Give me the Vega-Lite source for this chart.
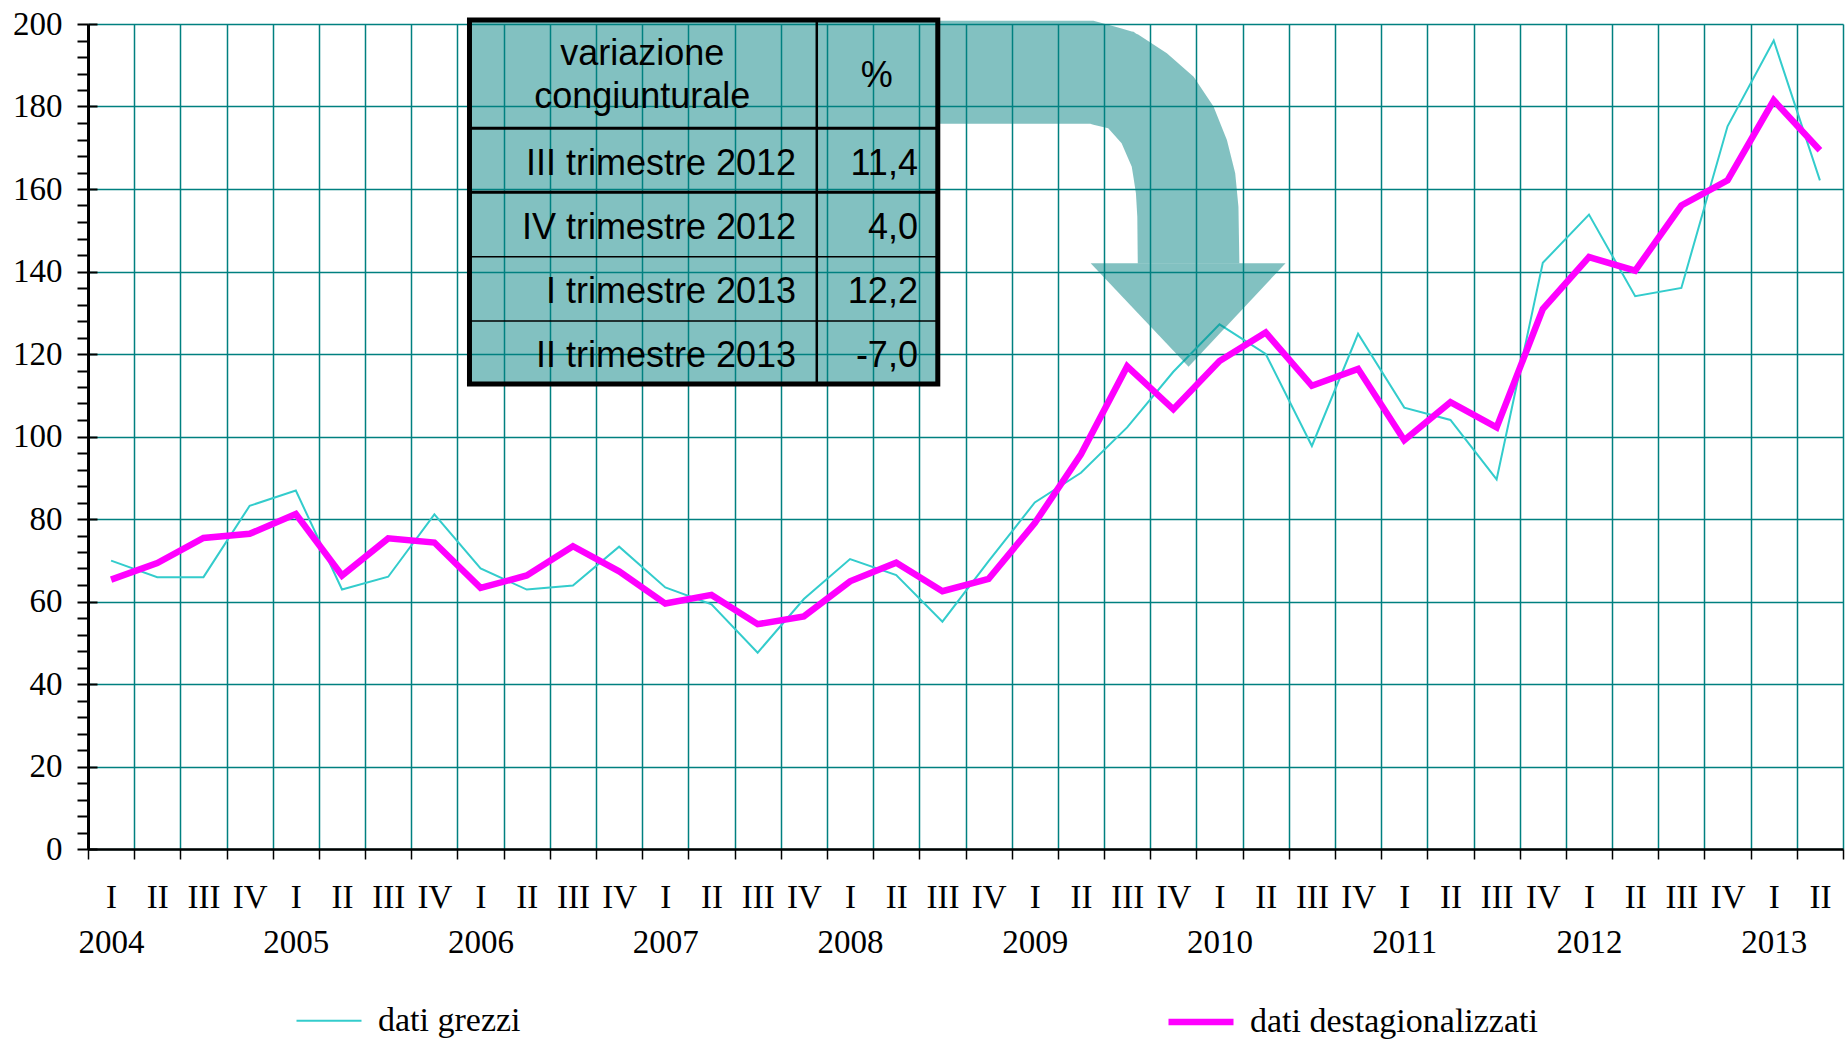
{
  "$schema": "https://vega.github.io/schema/vega-lite/v6.json",
  "width": 1755,
  "height": 825,
  "autosize": {"type": "none"},
  "padding": {"left": 88, "top": 24, "right": 2, "bottom": 196},
  "background": "white",
  "resolve": {"axis": {"y": "independent"}},
  "config": {
    "view": {"stroke": null},
    "locale": {"number": {"decimal": ",", "thousands": ".", "grouping": [3], "currency": ["€", ""], "minus": "-"}},
    "axis": {
      "labelOverlap": false,
      "labelFlush": false,
      "labelBound": false,
      "labelColor": "black",
      "labelFont": "Liberation Serif",
      "labelFontSize": 33,
      "tickColor": "black",
      "domainColor": "black",
      "gridColor": "#008080",
      "titleOpacity": 0
    },
    "axisX": {
      "grid": true,
      "labelAngle": 0,
      "labelAlign": "center",
      "labelBaseline": "top",
      "labelLineHeight": 45,
      "labelPadding": 22,
      "tickSize": 10,
      "tickWidth": 1.5,
      "gridWidth": 1.5,
      "domainWidth": 2.5
    },
    "axisY": {
      "labels": false,
      "ticks": false,
      "domain": false,
      "grid": false,
      "orient": "left"
    }
  },
  "datasets": {
    "serie": [
      {"anno": 2004, "trimestre": "I", "t": 0, "dati grezzi": 69.9, "dati destagionalizzati": 65.3},
      {"anno": 2004, "trimestre": "II", "t": 1, "dati grezzi": 65.9, "dati destagionalizzati": 69.3},
      {"anno": 2004, "trimestre": "III", "t": 2, "dati grezzi": 65.9, "dati destagionalizzati": 75.4},
      {"anno": 2004, "trimestre": "IV", "t": 3, "dati grezzi": 83.2, "dati destagionalizzati": 76.4},
      {"anno": 2005, "trimestre": "I", "t": 4, "dati grezzi": 86.9, "dati destagionalizzati": 81.2},
      {"anno": 2005, "trimestre": "II", "t": 5, "dati grezzi": 62.9, "dati destagionalizzati": 66.3},
      {"anno": 2005, "trimestre": "III", "t": 6, "dati grezzi": 66.0, "dati destagionalizzati": 75.3},
      {"anno": 2005, "trimestre": "IV", "t": 7, "dati grezzi": 81.1, "dati destagionalizzati": 74.3},
      {"anno": 2006, "trimestre": "I", "t": 8, "dati grezzi": 68.0, "dati destagionalizzati": 63.3},
      {"anno": 2006, "trimestre": "II", "t": 9, "dati grezzi": 62.9, "dati destagionalizzati": 66.3},
      {"anno": 2006, "trimestre": "III", "t": 10, "dati grezzi": 63.9, "dati destagionalizzati": 73.4},
      {"anno": 2006, "trimestre": "IV", "t": 11, "dati grezzi": 73.3, "dati destagionalizzati": 67.3},
      {"anno": 2007, "trimestre": "I", "t": 12, "dati grezzi": 63.4, "dati destagionalizzati": 59.5},
      {"anno": 2007, "trimestre": "II", "t": 13, "dati grezzi": 59.3, "dati destagionalizzati": 61.6},
      {"anno": 2007, "trimestre": "III", "t": 14, "dati grezzi": 47.6, "dati destagionalizzati": 54.5},
      {"anno": 2007, "trimestre": "IV", "t": 15, "dati grezzi": 60.6, "dati destagionalizzati": 56.4},
      {"anno": 2008, "trimestre": "I", "t": 16, "dati grezzi": 70.3, "dati destagionalizzati": 64.9},
      {"anno": 2008, "trimestre": "II", "t": 17, "dati grezzi": 66.4, "dati destagionalizzati": 69.4},
      {"anno": 2008, "trimestre": "III", "t": 18, "dati grezzi": 55.1, "dati destagionalizzati": 62.5},
      {"anno": 2008, "trimestre": "IV", "t": 19, "dati grezzi": 69.8, "dati destagionalizzati": 65.5},
      {"anno": 2009, "trimestre": "I", "t": 20, "dati grezzi": 84.0, "dati destagionalizzati": 79.0},
      {"anno": 2009, "trimestre": "II", "t": 21, "dati grezzi": 91.2, "dati destagionalizzati": 95.7},
      {"anno": 2009, "trimestre": "III", "t": 22, "dati grezzi": 102.2, "dati destagionalizzati": 117.0},
      {"anno": 2009, "trimestre": "IV", "t": 23, "dati grezzi": 115.7, "dati destagionalizzati": 106.6},
      {"anno": 2010, "trimestre": "I", "t": 24, "dati grezzi": 127.2, "dati destagionalizzati": 118.3},
      {"anno": 2010, "trimestre": "II", "t": 25, "dati grezzi": 120.0, "dati destagionalizzati": 125.2},
      {"anno": 2010, "trimestre": "III", "t": 26, "dati grezzi": 97.7, "dati destagionalizzati": 112.3},
      {"anno": 2010, "trimestre": "IV", "t": 27, "dati grezzi": 124.9, "dati destagionalizzati": 116.4},
      {"anno": 2011, "trimestre": "I", "t": 28, "dati grezzi": 107.0, "dati destagionalizzati": 99.1},
      {"anno": 2011, "trimestre": "II", "t": 29, "dati grezzi": 104.0, "dati destagionalizzati": 108.3},
      {"anno": 2011, "trimestre": "III", "t": 30, "dati grezzi": 89.6, "dati destagionalizzati": 102.2},
      {"anno": 2011, "trimestre": "IV", "t": 31, "dati grezzi": 142.1, "dati destagionalizzati": 130.9},
      {"anno": 2012, "trimestre": "I", "t": 32, "dati grezzi": 153.8, "dati destagionalizzati": 143.5},
      {"anno": 2012, "trimestre": "II", "t": 33, "dati grezzi": 134.0, "dati destagionalizzati": 140.2},
      {"anno": 2012, "trimestre": "III", "t": 34, "dati grezzi": 136.0, "dati destagionalizzati": 156.0},
      {"anno": 2012, "trimestre": "IV", "t": 35, "dati grezzi": 175.2, "dati destagionalizzati": 162.1},
      {"anno": 2013, "trimestre": "I", "t": 36, "dati grezzi": 196.0, "dati destagionalizzati": 181.5},
      {"anno": 2013, "trimestre": "II", "t": 37, "dati grezzi": 162.1, "dati destagionalizzati": 169.4}
    ],
    "tabella": [
      {"periodo": "III trimestre 2012", "variazione": 11.4},
      {"periodo": "IV trimestre 2012", "variazione": 4.0},
      {"periodo": "I trimestre 2013", "variazione": 12.2},
      {"periodo": "II trimestre 2013", "variazione": -7.0}
    ],
    "freccia": [
      {"parte": "corpo", "x": 17.9, "alto": 200.8, "basso": 175.8},
      {"parte": "corpo", "x": 21.2, "alto": 200.8, "basso": 175.8},
      {"parte": "corpo", "x": 21.27, "alto": 200.8, "basso": 175.6},
      {"parte": "corpo", "x": 21.59, "alto": 199.8, "basso": 174.7},
      {"parte": "corpo", "x": 21.88, "alto": 198.9, "basso": 171.1},
      {"parte": "corpo", "x": 22.1, "alto": 198.2, "basso": 165.4},
      {"parte": "corpo", "x": 22.14, "alto": 198.1, "basso": 162.6},
      {"parte": "corpo", "x": 22.19, "alto": 197.7, "basso": 159.0},
      {"parte": "corpo", "x": 22.22, "alto": 197.5, "basso": 153.3},
      {"parte": "corpo", "x": 22.23, "alto": 197.5, "basso": 142.0},
      {"parte": "corpo", "x": 22.86, "alto": 192.9, "basso": 142.0},
      {"parte": "corpo", "x": 23.44, "alto": 187.2, "basso": 142.0},
      {"parte": "corpo", "x": 23.87, "alto": 180.0, "basso": 142.0},
      {"parte": "corpo", "x": 24.16, "alto": 171.9, "basso": 142.0},
      {"parte": "corpo", "x": 24.34, "alto": 163.8, "basso": 142.0},
      {"parte": "corpo", "x": 24.41, "alto": 155.7, "basso": 142.0},
      {"parte": "corpo", "x": 24.43, "alto": 142.0, "basso": 142.0},
      {"parte": "punta", "x": 21.21, "alto": 142.0, "basso": 142.0},
      {"parte": "punta", "x": 23.33, "alto": 142.0, "basso": 116.9},
      {"parte": "punta", "x": 25.43, "alto": 142.0, "basso": 142.0}
    ],
    "uno": [{}]
  },
  "layer": [
    {
      "data": {"name": "serie"},
      "transform": [
        {"fold": ["dati grezzi", "dati destagionalizzati"], "as": ["serie", "valore"]}
      ],
      "mark": {"type": "line", "strokeJoin": "miter", "strokeCap": "butt"},
      "encoding": {
        "x": {
          "field": "t",
          "type": "quantitative",
          "title": null,
          "scale": {"domain": [-0.5, 37.5], "nice": false, "zero": false},
          "axis": {
            "orient": "bottom",
            "values": [-0.5,0.5,1.5,2.5,3.5,4.5,5.5,6.5,7.5,8.5,9.5,10.5,11.5,12.5,13.5,14.5,15.5,16.5,17.5,18.5,19.5,20.5,21.5,22.5,23.5,24.5,25.5,26.5,27.5,28.5,29.5,30.5,31.5,32.5,33.5,34.5,35.5,36.5,37.5],
            "labelExpr": "datum.value > 37 ? '' : [['I','II','III','IV'][(datum.value + 0.5) % 4], (datum.value + 0.5) % 4 === 0 ? '' + (2004 + (datum.value + 0.5) / 4) : '']",
            "labelOffset": 23.1
          }
        },
        "y": {
          "field": "valore",
          "type": "quantitative",
          "title": null,
          "scale": {"domain": [0, 200], "nice": false},
          "axis": {
            "orient": "left",
            "values": [0,20,40,60,80,100,120,140,160,180,200],
            "labels": true,
            "ticks": true,
            "domain": true,
            "grid": true,
            "gridColor": "#008080",
            "gridWidth": 1.6,
            "tickSize": 11,
            "tickWidth": 2,
            "tickColor": "black",
            "domainWidth": 3,
            "domainColor": "black",
            "labelPadding": 15,
            "labelFont": "Liberation Serif",
            "labelFontSize": 33,
            "labelColor": "black",
            "labelOverlap": false
          }
        },
        "color": {
          "field": "serie",
          "type": "nominal",
          "scale": {"domain": ["dati grezzi", "dati destagionalizzati"], "range": ["#33CCCC", "#FF00FF"]},
          "legend": {
            "title": null,
            "orient": "none",
            "legendX": 205,
            "legendY": 962,
            "direction": "horizontal",
            "columns": 2,
            "columnPadding": 634,
            "padding": 0,
            "symbolType": "stroke",
            "symbolSize": 4225,
            "symbolStrokeWidth": 3,
            "labelFont": "Liberation Serif",
            "labelFontSize": 34,
            "labelColor": "black",
            "labelOffset": 13,
            "labelLimit": 600,
            "encode": {"symbols": {"update": {"strokeWidth": {"signal": "datum.value === 'dati grezzi' ? 3 : 7"}}}}
          }
        },
        "strokeWidth": {
          "field": "serie",
          "type": "nominal",
          "scale": {"domain": ["dati grezzi", "dati destagionalizzati"], "range": [2, 6.5]},
          "legend": null
        }
      }
    },
    {
      "data": {"name": "freccia"},
      "mark": {"type": "area", "fill": "#008080", "fillOpacity": 0.49, "strokeWidth": 0},
      "encoding": {
        "x": {"field": "x", "type": "quantitative", "title": null},
        "y": {
          "field": "alto",
          "type": "quantitative",
          "title": null,
          "axis": {
            "orient": "left",
            "values": [4,8,12,16,24,28,32,36,44,48,52,56,64,68,72,76,84,88,92,96,104,108,112,116,124,128,132,136,144,148,152,156,164,168,172,176,184,188,192,196],
            "ticks": true,
            "tickSize": 11,
            "tickWidth": 2,
            "tickColor": "black",
            "labels": false,
            "domain": false,
            "grid": false
          }
        },
        "y2": {"field": "basso"},
        "detail": {"field": "parte"}
      }
    },
    {
      "data": {"name": "uno"},
      "mark": {"type": "rect", "fill": "#008080", "fillOpacity": 0.49, "stroke": "black", "strokeWidth": 5},
      "encoding": {
        "x": {"datum": 7.76, "type": "quantitative", "title": null},
        "x2": {"datum": 17.9},
        "y": {
          "datum": 201.0,
          "type": "quantitative",
          "title": null,
          "axis": {
            "orient": "left",
            "values": [0,20,40,60,80,100,120,140,160,180,200],
            "ticks": true,
            "tickSize": -9,
            "tickWidth": 2,
            "tickColor": "black",
            "labels": false,
            "domain": false,
            "grid": false
          }
        },
        "y2": {"datum": 112.7}
      }
    },
    {
      "data": {"name": "uno"},
      "mark": {"type": "rule", "color": "black", "strokeWidth": 2.5},
      "encoding": {
        "x": {"datum": 15.28, "type": "quantitative", "title": null},
        "y": {"datum": 201.0, "type": "quantitative", "title": null},
        "y2": {"datum": 112.7}
      }
    },
    {
      "data": {"name": "uno"},
      "mark": {"type": "rule", "color": "black", "strokeWidth": 3},
      "encoding": {
        "x": {"datum": 7.76, "type": "quantitative", "title": null},
        "x2": {"datum": 17.9},
        "y": {"datum": 174.7, "type": "quantitative", "title": null}
      }
    },
    {
      "data": {"name": "uno"},
      "mark": {"type": "rule", "color": "black", "strokeWidth": 3},
      "encoding": {
        "x": {"datum": 7.76, "type": "quantitative", "title": null},
        "x2": {"datum": 17.9},
        "y": {"datum": 159.2, "type": "quantitative", "title": null}
      }
    },
    {
      "data": {"name": "uno"},
      "mark": {"type": "rule", "color": "black", "strokeWidth": 1.5},
      "encoding": {
        "x": {"datum": 7.76, "type": "quantitative", "title": null},
        "x2": {"datum": 17.9},
        "y": {"datum": 143.6, "type": "quantitative", "title": null}
      }
    },
    {
      "data": {"name": "uno"},
      "mark": {"type": "rule", "color": "black", "strokeWidth": 1.5},
      "encoding": {
        "x": {"datum": 7.76, "type": "quantitative", "title": null},
        "x2": {"datum": 17.9},
        "y": {"datum": 128.0, "type": "quantitative", "title": null}
      }
    },
    {
      "data": {"name": "uno"},
      "mark": {"type": "text", "text": "variazione", "font": "Liberation Sans", "fontSize": 36, "color": "black", "align": "center", "baseline": "alphabetic"},
      "encoding": {
        "x": {"datum": 11.5, "type": "quantitative", "title": null},
        "y": {"datum": 190.1, "type": "quantitative", "title": null}
      }
    },
    {
      "data": {"name": "uno"},
      "mark": {"type": "text", "text": "congiunturale", "font": "Liberation Sans", "fontSize": 36, "color": "black", "align": "center", "baseline": "alphabetic"},
      "encoding": {
        "x": {"datum": 11.5, "type": "quantitative", "title": null},
        "y": {"datum": 179.6, "type": "quantitative", "title": null}
      }
    },
    {
      "data": {"name": "uno"},
      "mark": {"type": "text", "text": "%", "font": "Liberation Sans", "fontSize": 36, "color": "black", "align": "center", "baseline": "alphabetic"},
      "encoding": {
        "x": {"datum": 16.58, "type": "quantitative", "title": null},
        "y": {"datum": 184.7, "type": "quantitative", "title": null}
      }
    },
    {
      "data": {"name": "tabella"},
      "transform": [
        {"window": [{"op": "row_number", "as": "riga"}]},
        {"calculate": "163.4 - 15.5 * (datum.riga - 1)", "as": "ytesto"}
      ],
      "mark": {"type": "text", "font": "Liberation Sans", "fontSize": 36, "color": "black", "align": "right", "baseline": "alphabetic"},
      "encoding": {
        "x": {"datum": 14.83, "type": "quantitative", "title": null},
        "y": {"field": "ytesto", "type": "quantitative", "title": null},
        "text": {"field": "periodo", "type": "nominal"}
      }
    },
    {
      "data": {"name": "tabella"},
      "transform": [
        {"window": [{"op": "row_number", "as": "riga"}]},
        {"calculate": "163.4 - 15.5 * (datum.riga - 1)", "as": "ytesto"}
      ],
      "mark": {"type": "text", "font": "Liberation Sans", "fontSize": 36, "color": "black", "align": "right", "baseline": "alphabetic"},
      "encoding": {
        "x": {"datum": 17.47, "type": "quantitative", "title": null},
        "y": {"field": "ytesto", "type": "quantitative", "title": null},
        "text": {"field": "variazione", "type": "quantitative", "format": ".1f"}
      }
    }
  ]
}
